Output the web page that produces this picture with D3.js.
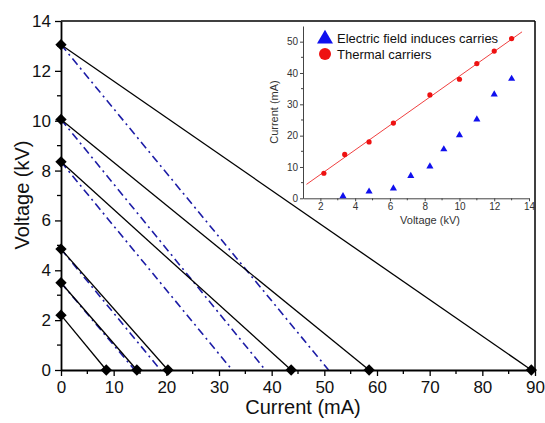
<!DOCTYPE html>
<html><head><meta charset="utf-8">
<script src="https://cdn.jsdelivr.net/npm/d3@7/dist/d3.min.js"></script>
<style>body{margin:0;background:#fff}svg{display:block}text{font-family:Arial,"Liberation Sans",sans-serif}</style>
</head><body><svg id="c" width="545" height="423"></svg>
<script>
// Main chart: load lines (voltage intercept, current intercept)
const loadVoltage = [13.05, 10.05, 8.35, 4.85, 3.5, 2.2];
const loadCurrent = [89.3, 58.5, 43.7, 20.3, 14.4, 8.6];
// Dash-dot lines (voltage intercept, current intercept)
const dashVoltage = [13.05, 10.05, 8.35, 4.85, 3.5];
const dashCurrent = [50.8, 38.8, 32.5, 18.9, 14.0];
const xTicksMain = [0,10,20,30,40,50,60,70,80,90];
const yTicksMain = [0,2,4,6,8,10,12,14];
// Inset
const thermalV = [2.2, 3.4, 4.8, 6.2, 8.3, 10, 11, 12, 13];
const thermalI = [8, 14, 18, 24, 33, 38, 43, 47, 51];
const fieldV = [3.3, 4.8, 6.2, 7.2, 8.3, 9.1, 10, 11, 12, 13];
const fieldI = [0.5, 2, 3, 7, 10, 15.5, 20, 25, 33, 38];
const insetXTicks = [2,4,6,8,10,12,14];
const insetYTicks = [0,10,20,30,40,50];
const fitRange = [1.2, 13.6];

const svg = d3.select("#c");
const x = d3.scaleLinear().domain([0,90]).range([61,535]);
const y = d3.scaleLinear().domain([0,14]).range([370,21]);

// frame top/right
svg.append("line").attr("x1",x(0)).attr("x2",x(90)).attr("y1",y(14)).attr("y2",y(14)).attr("stroke","#000").attr("stroke-width",1.5);
svg.append("line").attr("x1",x(90)).attr("x2",x(90)).attr("y1",y(14)).attr("y2",y(0)).attr("stroke","#000").attr("stroke-width",1.5);

// dash-dot lines
dashVoltage.forEach((v,i)=>{
  svg.append("line").attr("x1",x(0)).attr("y1",y(v)).attr("x2",x(dashCurrent[i])).attr("y2",y(0))
    .attr("stroke","#1c1ca6").attr("stroke-width",1.6).attr("stroke-dasharray","8,4,2,4");
});
// load lines
loadVoltage.forEach((v,i)=>{
  svg.append("line").attr("x1",x(0)).attr("y1",y(v)).attr("x2",x(loadCurrent[i])).attr("y2",y(0))
    .attr("stroke","#000").attr("stroke-width",1.3);
});

// axes
const xAxis = d3.axisBottom(x).tickValues(xTicksMain).tickSize(6).tickPadding(5).tickSizeOuter(0);
const yAxis = d3.axisLeft(y).tickValues(yTicksMain).tickSize(6).tickPadding(4).tickSizeOuter(0);
const gx = svg.append("g").attr("transform",`translate(0,${y(0)})`).call(xAxis);
const gy = svg.append("g").attr("transform",`translate(${x(0)},0)`).call(yAxis);
// minor ticks
const xMinor = d3.range(5,90,10), yMinor = d3.range(1,14,2);
gx.selectAll(".mn").data(xMinor).enter().append("line").attr("x1",d=>x(d)).attr("x2",d=>x(d)).attr("y1",0).attr("y2",4).attr("stroke","#000").attr("stroke-width",1.3);
gy.selectAll(".mn").data(yMinor).enter().append("line").attr("y1",d=>y(d)).attr("y2",d=>y(d)).attr("x1",0).attr("x2",-4).attr("stroke","#000").attr("stroke-width",1.3);
[gx,gy].forEach(g=>{
  g.select(".domain").attr("stroke-width",1.8);
  g.selectAll(".tick line").attr("stroke-width",1.3);
  g.selectAll(".tick text").attr("font-size",17).attr("fill","#111").attr("font-family","Arial,'Liberation Sans',sans-serif");
});

// diamond markers
const diamond = (cx,cy)=>svg.append("rect").attr("x",-4).attr("y",-4).attr("width",8).attr("height",8)
  .attr("fill","#000").attr("transform",`translate(${cx},${cy}) rotate(45)`);
loadVoltage.forEach((v,i)=>{ diamond(x(0),y(v)); diamond(x(loadCurrent[i]),y(0)); });

svg.append("text").attr("x",303).attr("y",414).attr("text-anchor","middle").attr("font-size",20).attr("fill","#111").text("Current (mA)");
svg.append("text").attr("transform","translate(29,195) rotate(-90)").attr("text-anchor","middle").attr("font-size",20).attr("fill","#111").text("Voltage (kV)");

// ---- Inset ----
const ix = d3.scaleLinear().domain([1,14]).range([303,529]);
const iy = d3.scaleLinear().domain([0,55]).range([198.3,26]);
const ixAxis = d3.axisBottom(ix).tickValues(insetXTicks).tickSize(3).tickPadding(2).tickSizeOuter(0);
const iyAxis = d3.axisLeft(iy).tickValues(insetYTicks).tickSize(3).tickPadding(2).tickSizeOuter(0);
const igx = svg.append("g").attr("transform",`translate(0,${iy(0)})`).call(ixAxis);
const igy = svg.append("g").attr("transform",`translate(${ix(1)},0)`).call(iyAxis);
igx.selectAll(".mn").data(d3.range(3,14,2)).enter().append("line").attr("x1",d=>ix(d)).attr("x2",d=>ix(d)).attr("y1",0).attr("y2",2).attr("stroke","#444");
igy.selectAll(".mn").data(d3.range(5,55,10)).enter().append("line").attr("y1",d=>iy(d)).attr("y2",d=>iy(d)).attr("x1",0).attr("x2",-2).attr("stroke","#444");
[igx,igy].forEach(g=>{
  g.select(".domain").attr("stroke","#444").attr("stroke-width",1);
  g.selectAll(".tick line").attr("stroke","#444");
  g.selectAll(".tick text").attr("font-size",10).attr("fill","#333").attr("font-family","Arial,'Liberation Sans',sans-serif");
});
svg.append("text").attr("x",430).attr("y",224).attr("text-anchor","middle").attr("font-size",11).attr("fill","#333").text("Voltage (kV)");
svg.append("text").attr("transform","translate(278,112) rotate(-90)").attr("text-anchor","middle").attr("font-size",11).attr("fill","#333").text("Current (mA)");

// fit line (least squares of thermal data)
const mx = d3.mean(thermalV), my = d3.mean(thermalI);
let sxy=0,sxx=0; thermalV.forEach((v,i)=>{sxy+=(v-mx)*(thermalI[i]-my); sxx+=(v-mx)*(v-mx);});
const slope = sxy/sxx, icpt = my - slope*mx;
svg.append("line").attr("x1",ix(fitRange[0])).attr("y1",iy(icpt+slope*fitRange[0]))
  .attr("x2",ix(fitRange[1])).attr("y2",iy(icpt+slope*fitRange[1])).attr("stroke","#f04040").attr("stroke-width",1);

svg.selectAll(".th").data(thermalV).enter().append("circle").attr("cx",d=>ix(d)).attr("cy",(d,i)=>iy(thermalI[i])).attr("r",2.6).attr("fill","#ee1111");
const tri = d3.symbol().type(d3.symbolTriangle).size(22);
svg.selectAll(".ef").data(fieldV).enter().append("path").attr("d",tri).attr("transform",(d,i)=>`translate(${ix(d)},${iy(fieldI[i])-0.5})`).attr("fill","#1010ee");

// legend
svg.append("path").attr("d",d3.symbol().type(d3.symbolTriangle).size(110)).attr("transform","translate(325,39)").attr("fill","#1010ee");
svg.append("circle").attr("cx",325).attr("cy",54).attr("r",6).attr("fill","#ee1111");
svg.append("text").attr("x",337).attr("y",43).attr("font-size",13).attr("fill","#111").text("Electric field induces carries");
svg.append("text").attr("x",337).attr("y",59).attr("font-size",13).attr("fill","#111").text(" Thermal carriers");
</script></body></html>
